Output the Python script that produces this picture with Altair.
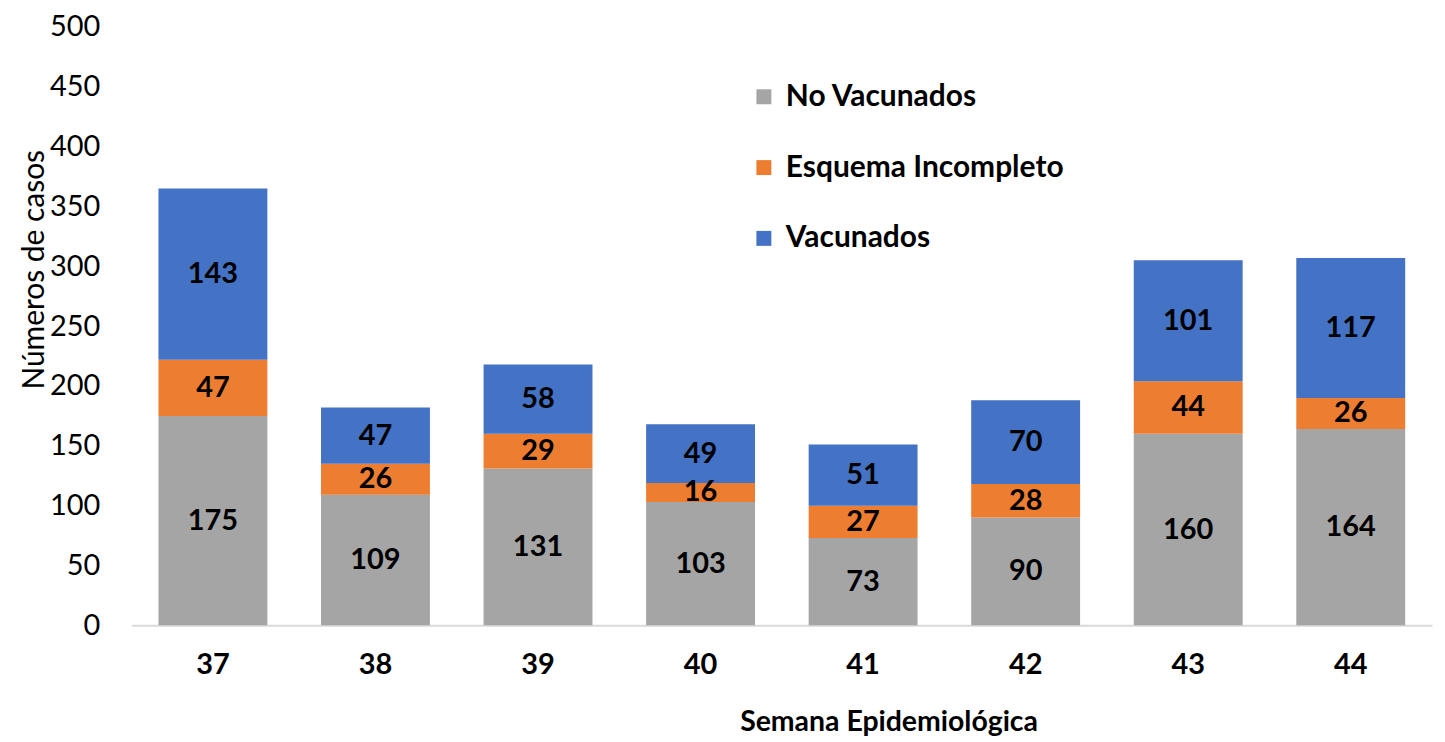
import altair as alt
import pandas as pd

weeks = ["37", "38", "39", "40", "41", "42", "43", "44"]
no_vacunados = [175, 109, 131, 103, 73, 90, 160, 164]
esquema_incompleto = [47, 26, 29, 16, 27, 28, 44, 26]
vacunados = [143, 47, 58, 49, 51, 70, 101, 117]
series = ["No Vacunados", "Esquema Incompleto", "Vacunados"]
colors = ["#A5A5A5", "#ED7D31", "#4472C4"]

rows = []
for i, w in enumerate(weeks):
    for k, (s, vals) in enumerate(zip(series, [no_vacunados, esquema_incompleto, vacunados])):
        rows.append({"week": w, "serie": s, "value": vals[i], "ord": k})
df = pd.DataFrame(rows)

FONT = "Lato"

base = alt.Chart(df).transform_stack(
    stack="value", as_=["y0", "y1"], groupby=["week"], sort=[alt.SortField("ord", order="ascending")]
).transform_calculate(mid="(datum.y0 + datum.y1) / 2")

x_enc = alt.X("week:N", sort=weeks,
              scale=alt.Scale(paddingInner=0.33, paddingOuter=0.165),
              axis=alt.Axis(title="Semana Epidemiológica", labelAngle=0, labelFontSize=29,
                            labelFontWeight="bold", labelColor="#000000", labelPadding=25,
                            ticks=False, domainColor="#D9D9D9", domainWidth=2,
                            titleFontSize=28.5, titleFontWeight="bold", titleColor="#000000",
                            titleX=759, titleY=97, titleAlign="center", titleBaseline="middle"))

bars = base.mark_bar().encode(
    x=x_enc,
    y=alt.Y("y0:Q", scale=alt.Scale(domain=[0, 500]),
            axis=alt.Axis(title="Números de casos", values=list(range(0, 501, 50)),
                          grid=False, domain=False, ticks=False, labelFontSize=29,
                          labelColor="#000000", labelPadding=32,
                          titleFontSize=30, titleFontWeight="normal", titleColor="#000000",
                          titleX=-97, titleY=243, titleAngle=270, titleAlign="center",
                          titleBaseline="middle")),
    y2="y1:Q",
    color=alt.Color("serie:N", scale=alt.Scale(domain=series, range=colors),
                    legend=alt.Legend(title=None, orient="none", legendX=619, legendY=55,
                                      symbolType="square", symbolSize=225, symbolStrokeWidth=0,
                                      labelFontSize=30, labelFontWeight="bold", labelLimit=0,
                                      labelColor="#000000", rowPadding=41, labelOffset=7)),
    order=alt.Order("ord:Q"),
)

labels = base.mark_text(fontSize=29, fontWeight="bold", color="#000000", font=FONT).encode(
    x=alt.X("week:N", sort=weeks),
    y=alt.Y("mid:Q"),
    text=alt.Text("value:Q"),
)

chart = alt.layer(bars, labels).properties(
    width=1304, height=600,
    autosize=alt.AutoSizeParams(type="none"),
    padding={"left": 124, "top": 18, "right": 5, "bottom": 113},
).configure(font=FONT).configure_view(stroke=None)

chart.save("out.html", embed_options={"renderer": "svg", "actions": False})
